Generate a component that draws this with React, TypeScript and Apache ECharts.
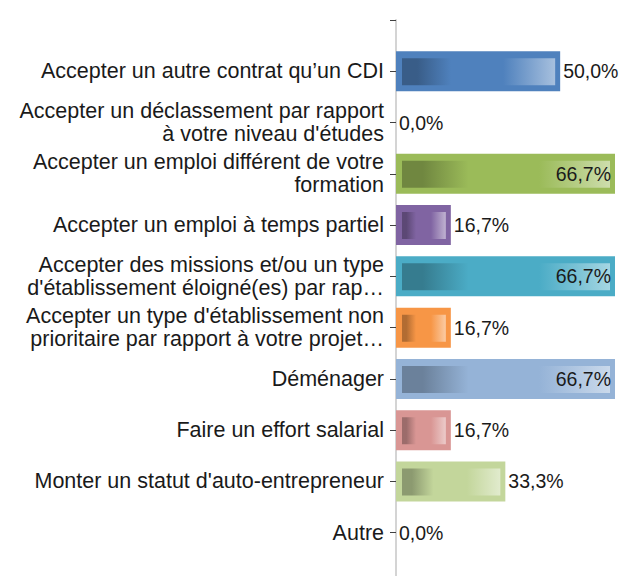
import React, { useEffect, useRef } from "react";
import * as echarts from "echarts";

const categories: string[] = [
  "Accepter un autre contrat qu’un CDI",
  "Accepter un déclassement par rapport\nà votre niveau d'études",
  "Accepter un emploi différent de votre\nformation",
  "Accepter un emploi à temps partiel",
  "Accepter des missions et/ou un type\nd'établissement éloigné(es) par rap…",
  "Accepter un type d'établissement non\nprioritaire par rapport à votre projet…",
  "Déménager",
  "Faire un effort salarial",
  "Monter un statut d'auto-entrepreneur",
  "Autre",
];

const values: number[] = [50.0, 0.0, 66.7, 16.7, 66.7, 16.7, 66.7, 16.7, 33.3, 0.0];

const barColors: string[] = [
  "#4F81BD",
  "#C0504D",
  "#9BBB59",
  "#8064A2",
  "#4BACC6",
  "#F79646",
  "#95B3D7",
  "#D99694",
  "#C3D69B",
  "#B3A2C7",
];

function hexToRgb(h: string): number[] {
  const n = parseInt(h.slice(1), 16);
  return [(n >> 16) & 255, (n >> 8) & 255, n & 255];
}
function rgb(c: number[]): string {
  return `rgb(${c.map((v) => Math.round(Math.max(0, Math.min(255, v)))).join(",")})`;
}
function dark(h: string): string {
  return rgb(hexToRgb(h).map((v) => v * 0.72));
}
function light(h: string): string {
  return rgb(hexToRgb(h).map((v) => v + (255 - v) * 0.5));
}

const FONT = "'Liberation Sans', Arial, sans-serif";
const TEXT = "#1a1a1a";
const BAR_H = 40;

export default function App() {
  const ref = useRef<HTMLDivElement>(null);
  useEffect(() => {
    if (!ref.current) return;
    const chart = echarts.init(ref.current, undefined, { renderer: "svg" });
    const axisCats = ["", ...categories, ""];
    const fmt = (v: number) => v.toFixed(1).replace(".", ",") + "%";
    const maxV = Math.max(...values);

    const barData = values.map((v, i) => ({
      value: v,
      itemStyle: { color: barColors[i] },
    }));
    const labelData = values.map((v) => ({
      value: v,
      label:
        v >= maxV
          ? { position: "insideRight", distance: 4 }
          : { position: "right", distance: 3 },
    }));
    const innerData = values.map((v, i) => [v, i + 1, i]);

    chart.setOption({
      animation: false,
      grid: {
        left: 396,
        right: 7,
        top: 20,
        height: 564,
        containLabel: false,
        outerBoundsMode: "none",
      },
      xAxis: {
        type: "value",
        min: 0,
        max: maxV,
        show: false,
      },
      yAxis: {
        type: "category",
        inverse: true,
        boundaryGap: false,
        data: axisCats,
        axisLine: { show: true, lineStyle: { color: "#d4d4d4", width: 2 } },
        axisTick: { show: true, length: 6, lineStyle: { color: "#404040", width: 1 } },
        axisLabel: {
          margin: 12,
          color: TEXT,
          fontFamily: FONT,
          fontSize: 21.5,
          lineHeight: 23,
          align: "right",
          interval: 0,
        },
        splitLine: { show: false },
      },
      series: [
        {
          type: "bar",
          data: [null, ...barData, null],
          barWidth: BAR_H,
          z: 2,
          silent: true,
        },
        {
          type: "custom",
          z: 3,
          silent: true,
          data: innerData,
          encode: { x: 0, y: 1 },
          renderItem: (params: any, api: any) => {
            const v = api.value(0);
            const idx = api.value(1);
            const ci = api.value(2);
            if (!v) return null;
            const s = api.coord([0, idx]);
            const e = api.coord([v, idx]);
            const base = barColors[ci];
            return {
              type: "rect",
              shape: {
                x: s[0] + 6,
                y: s[1] - BAR_H / 2 + 7,
                width: e[0] - s[0] - 11,
                height: BAR_H - 13,
              },
              style: {
                fill: new echarts.graphic.LinearGradient(0, 0, 1, 0, [
                  { offset: 0, color: dark(base) },
                  { offset: 0.1, color: dark(base) },
                  { offset: 0.32, color: base },
                  { offset: 0.66, color: base },
                  { offset: 1, color: light(base) },
                ]),
              },
            };
          },
        },
        {
          type: "bar",
          data: [null, ...labelData, null],
          barWidth: BAR_H,
          barGap: "-100%",
          z: 4,
          silent: true,
          itemStyle: { color: "rgba(0,0,0,0)" },
          label: {
            show: true,
            formatter: (p: any) => fmt(p.value),
            color: TEXT,
            fontFamily: FONT,
            fontSize: 19.5,
          },
        },
      ],
    });
    return () => chart.dispose();
  }, []);
  return (
    <div
      ref={ref}
      style={{ position: "absolute", left: 0, top: 0, width: 622, height: 576 }}
    />
  );
}
